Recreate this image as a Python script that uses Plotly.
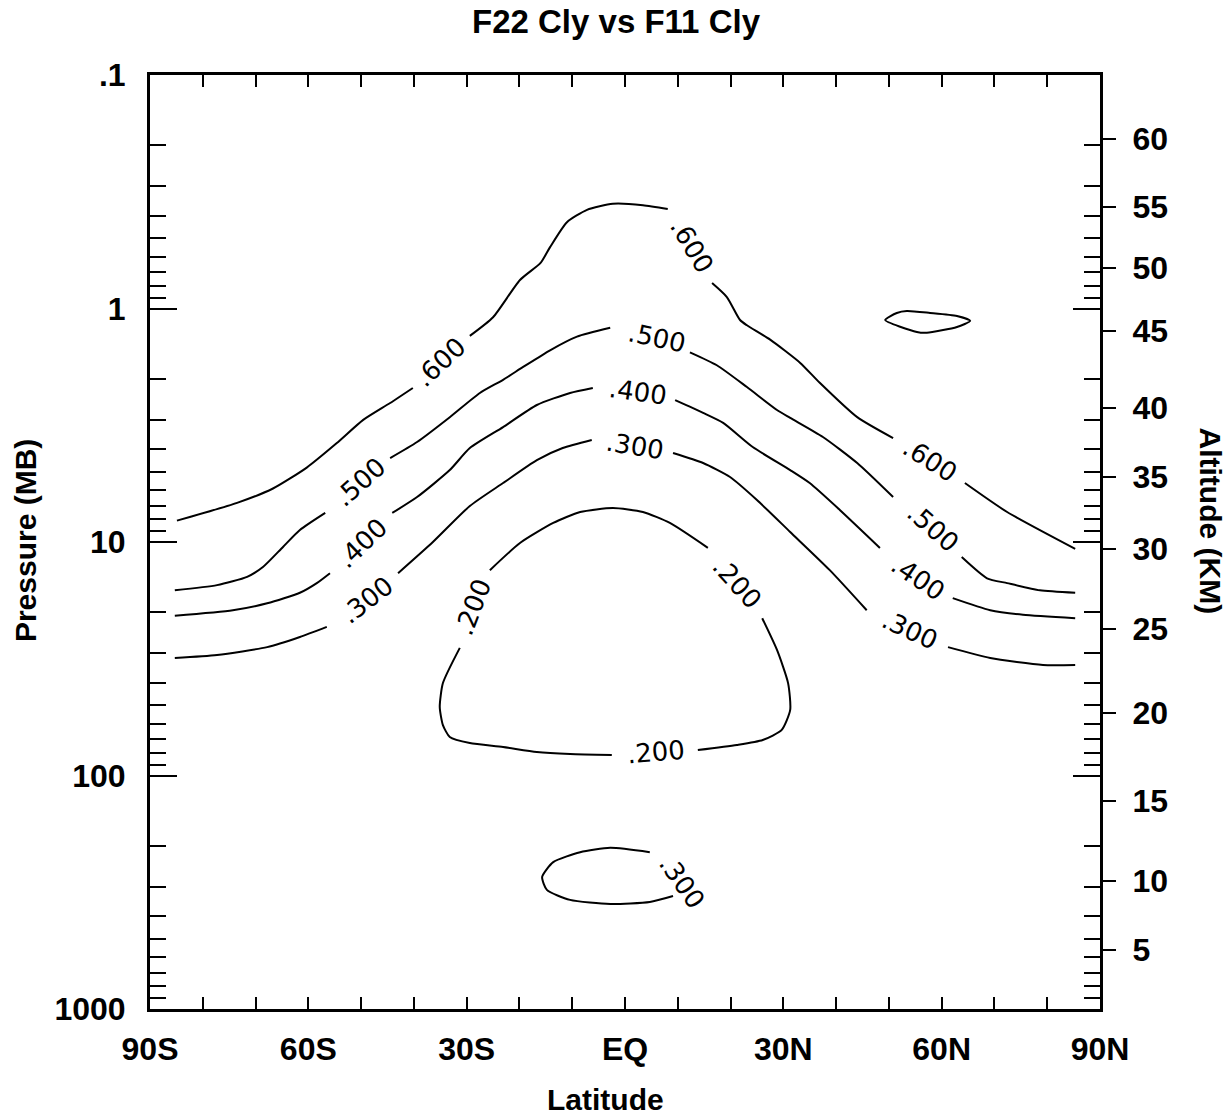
import math
import plotly.graph_objects as go

# ---- contour lines of the F22/F11 Cly ratio (latitude deg, pressure mb) ----
# None breaks a line where its value label is written
lat_600 = [-84.9, -73.5, -66.7, -60.3, -54.6, -49.6, -44.5, -40.2, None,
           -29.4, -25.0, -19.9, -16.0, -14.2, -11.0, -7.2, -2.3, 3.4, 8.1, None,
           16.5, 19.3, 21.8, 23.1, 27.5, 33.2, 36.9, 44.0, 50.8, None,
           64.4, 72.4, 85.3]
p_600 = [8.1, 6.8, 5.9, 4.8, 3.77, 3.0, 2.54, 2.19, None,
         1.31, 1.09, 0.755, 0.638, 0.546, 0.427, 0.378, 0.356, 0.361, 0.375, None,
         0.778, 0.893, 1.12, 1.18, 1.36, 1.71, 2.08, 2.92, 3.59, None,
         5.59, 7.44, 10.7]

lat_600_cell = [49.3, 51.5, 53.4, 57.8, 62.9, 65.4, 62.9, 57.2, 55.3, 49.3]
p_600_cell = [1.12, 1.045, 1.025, 1.045, 1.077, 1.13, 1.20, 1.27, 1.26, 1.12]

lat_500 = [-85.3, -77.3, -71.6, -68.6, -64.8, -61.6, -56.8, None,
           -44.5, -39.4, -33.2, -27.5, -23.1, -19.3, -14.2, -9.1, -2.8, None,
           12.3, 17.4, 23.1, 28.8, 31.3, 37.5, 44.0, 50.8, None,
           63.8, 68.6, 72.4, 78.6, 85.3]
p_500 = [16.1, 15.3, 14.1, 12.8, 10.5, 8.89, 7.51, None,
         4.37, 3.73, 2.92, 2.30, 2.02, 1.78, 1.51, 1.32, 1.21, None,
         1.54, 1.75, 2.17, 2.72, 2.94, 3.55, 4.59, 6.42, None,
         11.6, 14.3, 15.0, 16.1, 16.5]

lat_400 = [-85.3, -74.3, -67.8, -61.6, -58.4, -55.9, None,
           -44.1, -39.4, -33.2, -29.4, -23.1, -16.7, -10.4, -6.1, None,
           9.5, 14.8, 18.6, 24.2, 31.3, 35.0, 40.7, 48.3, None,
           62.1, 69.2, 75.4, 85.3]
p_400 = [20.7, 19.6, 18.3, 16.5, 15.0, 13.6, None,
         7.51, 6.42, 4.92, 3.96, 3.22, 2.59, 2.30, 2.19, None,
         2.47, 2.80, 3.09, 3.92, 4.92, 5.59, 7.29, 10.6, None,
         17.4, 19.6, 20.5, 21.2]

lat_300 = [-85.3, -77.3, -67.8, -61.6, -56.5, None,
           -43.0, -36.4, -29.4, -23.1, -16.7, -11.8, -6.3, None,
           9.1, 14.8, 19.9, 25.0, 31.3, 38.8, 45.8, None,
           61.2, 69.2, 79.2, 85.3]
p_300 = [31.4, 30.5, 28.2, 25.5, 23.1, None,
         13.6, 10.0, 7.01, 5.59, 4.46, 3.96, 3.66, None,
         4.16, 4.59, 5.27, 6.61, 9.06, 13.2, 19.6, None,
         28.2, 31.4, 33.6, 33.6]

lat_300_cell = [4.7, -2.8, -8.5, -13.6, -15.7, -14.8, -10.4, -2.8, 4.7, 9.1]
p_300_cell = [213, 204, 213, 235, 272, 309, 341, 355, 348, 328]

lat_200 = [-25.6, -19.9, -13.6, -8.5, -2.3, 3.4, 8.5, 15.7, None,
           26.0, 28.8, 30.9, 31.3, 29.7, 26.1, 21.2, 13.8, None,
           -2.5, -10.4, -16.7, -23.1, -29.4, -33.2, -34.5, -35.1, -34.5, -31.3]
p_200 = [13.2, 10.1, 8.29, 7.44, 7.15, 7.44, 8.29, 10.6, None,
         21.2, 29.0, 40.2, 52.4, 63.8, 70.5, 74.0, 77.8, None,
         81.7, 80.9, 79.3, 75.5, 72.6, 68.4, 60.8, 50.9, 40.2, 28.4]

# value labels written into the gaps of the lines
label_text = [".600", ".500", ".400", ".300", ".600", ".500", ".400", ".300",
              ".600", ".500", ".400", ".300", ".200", ".200", ".200", ".300"]
label_lat = [-35.0, -50.2, -49.8, -48.9, 12.7, 6.1, 2.5, 1.9,
             57.8, 58.4, 55.5, 54.0, -28.8, 21.2, 5.9, 10.8]
label_p = [1.69, 5.53, 10.1, 17.7, 0.539, 1.34, 2.28, 3.88,
           4.46, 8.71, 14.3, 23.8, 19.0, 15.0, 79.3, 286]
label_angle = [-43, -42, -44, -38, 59, 12, 8, 9,
               32, 41, 34, 25, -69, 48, -5, 55]

# axis ticks
lat_ticks = [-90, -60, -30, 0, 30, 60, 90]
lat_labels = ["90S", "60S", "30S", "EQ", "30N", "60N", "90N"]
p_ticks = [0.1, 1, 10, 100, 1000]
p_labels = [".1", "1", "10", "100", "1000"]
p_minor = [m * 10.0 ** d for d in range(-1, 3) for m in range(2, 10)]
alt_labels = ["60", "55", "50", "45", "40", "35", "30", "25", "20", "15", "10", "5"]
alt_p = [0.188, 0.367, 0.671, 1.25, 2.67, 5.27, 10.7, 23.6, 54.0, 128.5, 283, 559]

BOLD = dict(family="Liberation Sans", size=32, color="black", weight="bold")
TITLE = dict(family="Liberation Sans", size=30, color="black", weight="bold")
LABEL = dict(family="DejaVu Sans", size=26, color="black")
line_style = dict(color="black", width=2, shape="spline", smoothing=0.6)

fig = go.Figure()
for lats, ps in [(lat_600, p_600), (lat_600_cell, p_600_cell), (lat_500, p_500),
                 (lat_400, p_400), (lat_300, p_300), (lat_300_cell, p_300_cell),
                 (lat_200, p_200)]:
    fig.add_trace(go.Scatter(x=lats, y=ps, mode="lines", line=line_style,
                             connectgaps=False, hoverinfo="skip", showlegend=False))

# invisible trace carrying the altitude axis
fig.add_trace(go.Scatter(x=[0], y=[1], yaxis="y2", mode="markers",
                         marker=dict(opacity=0), hoverinfo="skip", showlegend=False))

for t, la, pr, ang in zip(label_text, label_lat, label_p, label_angle):
    fig.add_annotation(x=la, y=math.log10(pr), text=t, showarrow=False,
                       textangle=ang, font=LABEL, xanchor="center", yanchor="middle")

fig.update_layout(
    width=1232, height=1117,
    margin=dict(l=150, r=132, t=75, b=108),
    paper_bgcolor="white", plot_bgcolor="white",
    title=dict(text="F22 Cly vs F11 Cly", x=0.5, xref="container", xanchor="center",
               y=1 - 21 / 1117, yref="container", yanchor="middle",
               font=dict(family="Liberation Sans", size=33, color="black", weight="bold")),
    xaxis=dict(range=[-90, 90], tickmode="array", tickvals=lat_ticks, ticktext=lat_labels,
               ticks="inside", ticklen=12, tickwidth=2, tickcolor="black",
               minor=dict(tickmode="linear", tick0=-90, dtick=10, ticks="inside",
                          ticklen=12, tickwidth=2, tickcolor="black"),
               showline=True, linecolor="black", linewidth=3, mirror="ticks",
               showgrid=False, zeroline=False, tickfont=BOLD, ticklabelstandoff=10),
    yaxis=dict(type="log", range=[3, -1], tickmode="array", tickvals=p_ticks,
               ticktext=p_labels, ticks="inside", ticklen=27, tickwidth=2,
               tickcolor="black",
               minor=dict(tickmode="array", tickvals=p_minor, ticks="inside",
                          ticklen=16, tickwidth=2, tickcolor="black"),
               showline=True, linecolor="black", linewidth=3, mirror="ticks",
               showgrid=False, zeroline=False, tickfont=BOLD, ticklabelstandoff=15),
    yaxis2=dict(type="log", range=[3, -1], overlaying="y", side="right", anchor="x",
                tickmode="array", tickvals=alt_p, ticktext=alt_labels,
                ticks="outside", ticklen=15, tickwidth=2, tickcolor="black",
                showline=False, showgrid=False, zeroline=False, tickfont=BOLD,
                ticklabelstandoff=10),
    annotations=list(fig.layout.annotations) + [
        dict(text="Latitude", xref="paper", yref="paper", x=0.479, y=-0.0974,
             showarrow=False, xanchor="center", yanchor="middle", font=TITLE),
        dict(text="Pressure (MB)", xref="paper", yref="paper", x=-0.1316, y=0.502,
             showarrow=False, textangle=-90, xanchor="center", yanchor="middle",
             font=TITLE),
        dict(text="Altitude (KM)", xref="paper", yref="paper", x=1.1158, y=0.523,
             showarrow=False, textangle=90, xanchor="center", yanchor="middle",
             font=TITLE),
    ],
)

fig.write_html("out.html")
